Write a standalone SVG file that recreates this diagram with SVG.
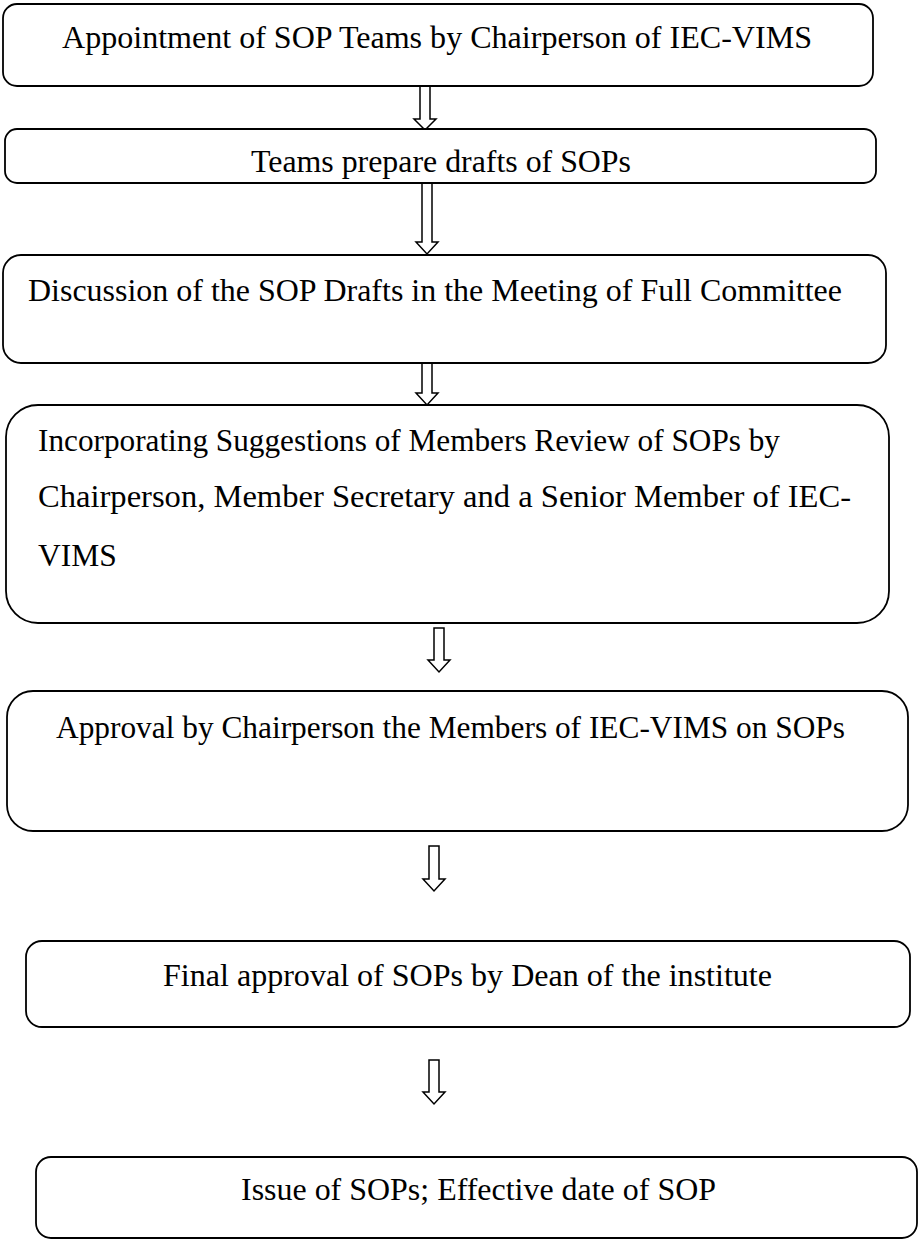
<svg xmlns="http://www.w3.org/2000/svg" width="920" height="1241" viewBox="0 0 920 1241">
<style>
.box{fill:#fff;stroke:#000;stroke-width:1.8}
.t{font-family:'Liberation Serif','Times New Roman','DejaVu Serif',serif;font-size:31.5px;fill:#000}
.arr{fill:#fff;stroke:#000;stroke-width:1.5;stroke-linejoin:miter}
</style>
<rect width="920" height="1241" fill="#fff"/>
<g id="connectors">
<path class="arr" d="M420,86 L420,119 L414,119 L425,130 L436,119 L430,119 L430,86 Z"/>
<path class="arr" d="M422,183 L422,242 L416,242 L427,254 L438,242 L432,242 L432,183 Z"/>
<path class="arr" d="M422,363 L422,393 L416,393 L427,405 L438,393 L432,393 L432,363 Z"/>
<path class="arr" d="M434,628 L434,660 L428,660 L439,672 L450,660 L444,660 L444,628 Z"/>
<path class="arr" d="M429,846 L429,879 L423,879 L434,891 L445,879 L439,879 L439,846 Z"/>
<path class="arr" d="M429,1060 L429,1092 L423,1092 L434,1104 L445,1092 L439,1092 L439,1060 Z"/>
</g>
<g id="n1"><rect class="box" x="3" y="4" width="870" height="82" rx="14"/>
<text class="t" x="62" y="47.5" textLength="750" lengthAdjust="spacingAndGlyphs">Appointment of SOP Teams by Chairperson of IEC-VIMS</text></g>
<g id="n2"><rect class="box" x="5" y="129" width="871" height="54" rx="12"/>
<text class="t" x="251" y="172" textLength="380" lengthAdjust="spacingAndGlyphs">Teams prepare drafts of SOPs</text></g>
<g id="n3"><rect class="box" x="3" y="255" width="883" height="108" rx="18"/>
<text class="t" x="28" y="301" textLength="814" lengthAdjust="spacingAndGlyphs">Discussion of the SOP Drafts in the Meeting of Full Committee</text></g>
<g id="n4"><rect class="box" x="6" y="405" width="883" height="218" rx="32"/>
<text class="t" x="38" y="451" textLength="742" lengthAdjust="spacingAndGlyphs">Incorporating Suggestions of Members Review of SOPs by</text>
<text class="t" x="38" y="507" textLength="813" lengthAdjust="spacingAndGlyphs">Chairperson, Member Secretary and a Senior Member of IEC-</text>
<text class="t" x="38" y="566">VIMS</text></g>
<g id="n5"><rect class="box" x="7" y="691" width="901" height="140" rx="26"/>
<text class="t" x="56" y="738" textLength="789" lengthAdjust="spacingAndGlyphs">Approval by Chairperson the Members of IEC-VIMS on SOPs</text></g>
<g id="n6"><rect class="box" x="26" y="941" width="884" height="86" rx="16"/>
<text class="t" x="163" y="986" textLength="609" lengthAdjust="spacingAndGlyphs">Final approval of SOPs by Dean of the institute</text></g>
<g id="n7"><rect class="box" x="36" y="1157" width="881" height="81" rx="15"/>
<text class="t" x="241" y="1200" textLength="475" lengthAdjust="spacingAndGlyphs">Issue of SOPs; Effective date of SOP</text></g>
</svg>
